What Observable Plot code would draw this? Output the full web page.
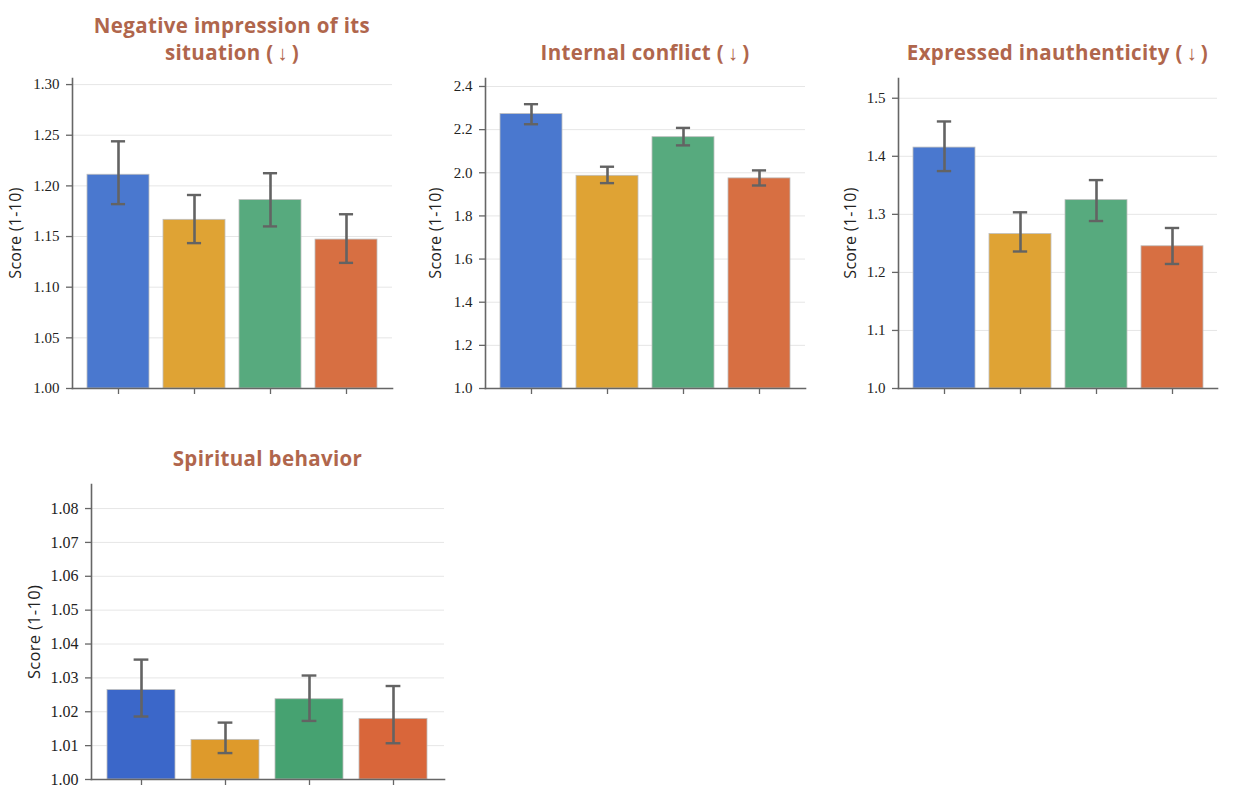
<!DOCTYPE html>
<html>
<head>
<meta charset="utf-8">
<script src="https://cdn.jsdelivr.net/npm/d3@7"></script>
<script src="https://cdn.jsdelivr.net/npm/@observablehq/plot@0.6"></script>
<style>
  html, body { margin: 0; padding: 0; background: #fff; }
  #root { position: relative; width: 1234px; height: 802px; overflow: hidden; }
  .panel { position: absolute; }
  .title { position: absolute; text-align: center; font-family: "Open Sans", sans-serif; font-weight: 700; font-size: 20.5px; letter-spacing: 0.35px; color: #b0664c; line-height: 27px; white-space: nowrap; }
  .ylab { position: absolute; font-family: "Open Sans", sans-serif; font-size: 16px; letter-spacing: 0.3px; color: #222; white-space: nowrap; transform: translate(-50%, -50%) rotate(-90deg); }
</style>
</head>
<body>
<div id="root"></div>
<script>
// Categories (unlabelled groups on the x axis)
const groups = ["G1", "G2", "G3", "G4"];
const colors = ["#4a78cf", "#dfa334", "#57aa7e", "#d76f42"];
const colors4 = ["#3b67c9", "#de9a2b", "#46a271", "#d9663a"];

// Panel titles
const titles = [
  "Negative impression of its<br>situation (\u2009↓\u2009)",
  "Internal conflict (\u2009↓\u2009)",
  "Expressed inauthenticity (\u2009↓\u2009)",
  "Spiritual behavior"
];
const yLabel = "Score (1-10)";

// Negative impression of its situation
const negMean = [1.211, 1.1665, 1.186, 1.147];
const negLo   = [1.182, 1.1435, 1.160, 1.124];
const negHi   = [1.244, 1.191, 1.2125, 1.172];
const negTicks = [1.00, 1.05, 1.10, 1.15, 1.20, 1.25, 1.30];

// Internal conflict
const confMean = [2.272, 1.986, 2.165, 1.974];
const confLo   = [2.225, 1.952, 2.127, 1.941];
const confHi   = [2.318, 2.028, 2.208, 2.011];
const confTicks = [1.0, 1.2, 1.4, 1.6, 1.8, 2.0, 2.2, 2.4];

// Expressed inauthenticity
const inaMean = [1.415, 1.266, 1.3245, 1.245];
const inaLo   = [1.3745, 1.236, 1.2885, 1.2145];
const inaHi   = [1.460, 1.3035, 1.359, 1.2765];
const inaTicks = [1.0, 1.1, 1.2, 1.3, 1.4, 1.5];

// Spiritual behavior
const spiMean = [1.0264, 1.0117, 1.0237, 1.0179];
const spiLo   = [1.0186, 1.0078, 1.0173, 1.0107];
const spiHi   = [1.0354, 1.0168, 1.0307, 1.0276];
const spiTicks = [1.00, 1.01, 1.02, 1.03, 1.04, 1.05, 1.06, 1.07, 1.08];

const root = document.getElementById("root");

function panel(cfg) {
  const data = groups.map((g, i) => ({g, mean: cfg.mean[i], lo: cfg.lo[i], hi: cfg.hi[i], c: cfg.colors[i]}));
  const bw = (cfg.width - cfg.ml - cfg.mr) / (4 - 0.19 + 0.38) * 0.81;
  const capInset = (bw - cfg.cap) / 2;
  const svg = Plot.plot({
    width: cfg.width,
    height: cfg.height,
    marginLeft: cfg.ml,
    marginRight: cfg.mr,
    marginTop: cfg.mt,
    marginBottom: cfg.mb,
    style: {background: "transparent", overflow: "visible"},
    x: {domain: groups, padding: 0.19, axis: null},
    y: {domain: cfg.domain, axis: null},
    marks: [
      Plot.gridY(cfg.ticks, {stroke: "#e6e6e6", strokeOpacity: 1, strokeWidth: 1}),
      Plot.barY(data, {x: "g", y1: cfg.domain[0], y2: "mean", fill: "c", stroke: "#bdbdbd", strokeWidth: 0.8}),
      Plot.ruleX(data, {x: "g", y1: "lo", y2: "hi", stroke: "#636363", strokeWidth: 2.6}),
      Plot.tickY(data, {x: "g", y: "lo", stroke: "#636363", strokeWidth: 2.4, insetLeft: capInset, insetRight: capInset}),
      Plot.tickY(data, {x: "g", y: "hi", stroke: "#636363", strokeWidth: 2.4, insetLeft: capInset, insetRight: capInset}),
      Plot.axisY(cfg.ticks, {tickSize: 6, tickPadding: 7, tickFormat: cfg.fmt, label: null, stroke: "#666", strokeWidth: 1.3, fill: "#222"}),
      Plot.axisX(groups, {tickSize: 6, tickFormat: () => "", label: null, stroke: "#666", strokeWidth: 1.3}),
      Plot.frame({anchor: "left", stroke: "#666", strokeWidth: 1.6}),
      Plot.frame({anchor: "bottom", stroke: "#666", strokeWidth: 1.6})
    ]
  });
  // tick label typography
  svg.querySelectorAll("text").forEach(t => {
    t.style.fontFamily = "'Liberation Serif', serif";
    t.style.fontSize = cfg.fs + "px";
    t.style.fill = "#222";
  });
  const wrap = document.createElement("div");
  wrap.className = "panel";
  wrap.style.left = cfg.left + "px";
  wrap.style.top = cfg.top + "px";
  wrap.appendChild(svg);
  root.appendChild(wrap);

  const t = document.createElement("div");
  t.className = "title";
  t.innerHTML = cfg.title;
  const cx = cfg.left + (cfg.ml + cfg.width - cfg.mr) / 2;
  t.style.left = (cx - 250) + "px";
  t.style.width = "500px";
  t.style.top = cfg.titleTop + "px";
  root.appendChild(t);

  const yl = document.createElement("div");
  yl.className = "ylab";
  yl.textContent = yLabel;
  yl.style.left = cfg.labelX + "px";
  yl.style.top = (cfg.top + (cfg.mt + cfg.height - cfg.mb) / 2) + "px";
  if (cfg.labelSize) yl.style.fontSize = cfg.labelSize + "px";
  root.appendChild(yl);
}

const f2 = d3.format(".2f"), f1 = d3.format(".1f");

panel({title: titles[0], mean: negMean, lo: negLo, hi: negHi, ticks: negTicks, fmt: f2, colors,
  left: 0, top: 0, width: 400, height: 400, ml: 72, mr: 8, mt: 78, mb: 12, domain: [1.0, 1.306],
  cap: 14, fs: 15, titleTop: 12, labelX: 15});
panel({title: titles[1], mean: confMean, lo: confLo, hi: confHi, ticks: confTicks, fmt: f1, colors,
  left: 420, top: 0, width: 400, height: 400, ml: 65, mr: 15, mt: 78, mb: 12, domain: [1.0, 2.437],
  cap: 14, fs: 15, titleTop: 39, labelX: 435});
panel({title: titles[2], mean: inaMean, lo: inaLo, hi: inaHi, ticks: inaTicks, fmt: f1, colors,
  left: 830, top: 0, width: 404, height: 400, ml: 68, mr: 17, mt: 78, mb: 12, domain: [1.0, 1.534],
  cap: 14, fs: 15, titleTop: 39, labelX: 850});
panel({title: titles[3], mean: spiMean, lo: spiLo, hi: spiHi, ticks: spiTicks, fmt: f2, colors: colors4,
  left: 0, top: 430, width: 460, height: 372, ml: 91, mr: 16, mt: 54, mb: 23, domain: [1.0, 1.0871],
  cap: 15, fs: 16, titleTop: 445, labelX: 33, labelSize: 16.5});
</script>
</body>
</html>
